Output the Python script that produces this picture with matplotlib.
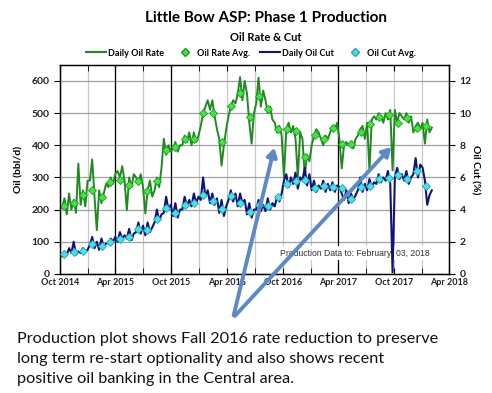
import numpy as np
import pandas as pd
import matplotlib
matplotlib.use("Agg")
import matplotlib.pyplot as plt
import matplotlib.dates as mdates
from matplotlib.patches import FancyArrowPatch
from matplotlib.lines import Line2D

plt.rcParams["font.family"] = ["Lato", "DejaVu Sans"]

# daily oil rate (bbl/d), ~weekly readings Oct 2014 - Feb 3 2018
oil_rate = [
    205, 235, 185, 250, 200, 230, 190, 343, 215, 260, 210, 290,
    290, 356, 240, 136, 260, 220, 250, 280, 270, 300, 280, 310,
    320, 300, 335, 290, 198, 300, 270, 310, 300, 280, 310, 270,
    188, 260, 290, 240, 260, 300, 270, 330, 420, 370, 400, 380,
    390, 410, 380, 400, 400, 430, 410, 440, 400, 440, 410, 430,
    460, 500, 520, 540, 510, 540, 490, 450, 420, 337, 400, 450,
    490, 520, 540, 530, 560, 612, 540, 600, 560, 470, 405, 500,
    530, 610, 520, 570, 540, 500, 520, 480, 470, 440, 460, 430,
    300, 450, 470, 440, 460, 420, 300, 440, 420, 306, 370, 350,
    400, 430, 450, 440, 420, 400, 430, 420, 440, 460, 450, 470,
    420, 328, 400, 410, 400, 410, 390, 420, 430, 450, 460, 420,
    470, 322, 480, 490, 480, 500, 490, 470, 500, 480, 510, 322,
    510, 470, 500, 490, 480, 500, 470, 490, 440, 460, 470, 450,
    470, 405, 480, 440, 455,
]

# daily oil cut (%)
oil_cut = [
    1.1, 1.4, 1.2, 1.6, 1.3, 2.0, 1.2, 1.4, 1.3, 1.6, 1.4, 1.5,
    1.8, 2.3, 1.6, 2.0, 1.5, 2.2, 1.7, 1.9, 1.9, 2.2, 2.0, 2.3,
    2.0, 2.6, 2.2, 2.4, 2.2, 2.8, 2.1, 2.5, 2.6, 3.2, 2.5, 3.0,
    2.4, 3.2, 2.6, 2.9, 3.2, 4.0, 3.3, 3.7, 3.8, 4.8, 4.0, 4.3,
    3.6, 4.4, 3.5, 4.0, 4.0, 4.8, 4.2, 4.6, 4.2, 5.0, 4.4, 4.8,
    4.6, 6.0, 4.8, 5.2, 4.4, 5.0, 4.3, 4.7, 3.8, 4.6, 3.6, 4.2,
    4.6, 5.2, 4.5, 5.0, 4.2, 5.0, 4.4, 4.6, 3.7, 4.4, 3.5, 4.0,
    4.0, 4.6, 3.9, 4.3, 3.9, 4.7, 4.0, 4.4, 4.2, 4.8, 4.5, 5.0,
    5.8, 6.2, 5.4, 6.0, 5.6, 6.3, 5.3, 6.0, 5.8, 6.6, 5.5, 6.2,
    5.2, 5.8, 5.1, 5.5, 5.3, 5.8, 5.1, 5.6, 5.2, 5.7, 5.1, 5.5,
    5.4, 5.0, 4.6, 5.2, 4.4, 5.0, 4.6, 4.9, 5.2, 6.0, 5.1, 5.6,
    5.2, 5.9, 5.4, 5.7, 5.6, 6.2, 5.7, 6.0, 5.8, 6.4, 5.6, 0.1,
    6.0, 6.6, 5.9, 6.2, 5.8, 6.4, 5.6, 6.0, 6.2, 7.2, 6.0, 6.8,
    6.6, 5.8, 4.3, 4.9, 5.2,
]

# monthly averages, Oct 2014 - Jan 2018
rate_avg = [
    210, 220, 245, 260, 240, 285, 292, 277, 290, 258, 290, 385,
    395, 418, 421, 501, 501, 411, 523, 563, 489, 553, 514, 451,
    451, 443, 362, 433, 421, 455, 405, 405, 442, 467, 489, 495,
    470, 486, 455, 461,
]
cut_avg = [
    1.22, 1.36, 1.44, 1.84, 1.74, 1.98, 2.16, 2.28, 2.78, 2.72, 3.44, 4.08,
    3.78, 4.26, 4.40, 4.88, 4.56, 4.04, 4.82, 4.40, 3.82, 4.26, 4.20, 4.76,
    5.62, 5.76, 5.82, 5.32, 5.44, 5.38, 5.32, 4.64, 5.38, 5.44, 5.88, 5.94,
    6.12, 5.88, 6.38, 5.44,
]

daily_dates = pd.date_range("2014-10-08", "2018-02-03", periods=len(oil_rate))
avg_dates = pd.date_range("2014-10-01", periods=len(rate_avg), freq="MS") + pd.Timedelta(days=14)

fig = plt.figure(figsize=(4.92, 3.93), dpi=100)
ax = fig.add_axes([0.122, 0.303, 0.791, 0.532])
ax2 = ax.twinx()

ax.set_xlim(pd.Timestamp("2014-10-01"), pd.Timestamp("2018-04-01"))
ax.set_ylim(0, 650)
ax2.set_ylim(0, 13)

ax.plot(daily_dates, oil_rate, color="#1f8a1f", lw=1.4, zorder=3)
ax.plot(avg_dates, rate_avg, ls="none", marker="D", ms=4.5, mfc="#3ee83e",
        mec="#1f9a1f", mew=0.6, zorder=4)
ax2.plot(daily_dates, oil_cut, color="#12127e", lw=1.5, zorder=3)
ax2.plot(avg_dates, cut_avg, ls="none", marker="D", ms=4.5, mfc="#3fe6e6",
         mec="#2aa0b0", mew=0.6, zorder=4)

# grid
ax.set_yticks(range(0, 601, 100))
ax.yaxis.grid(True, color="#a0a0a0", lw=0.9)
ax.xaxis.set_major_locator(mdates.MonthLocator(bymonth=[4, 10]))
ax.xaxis.set_minor_locator(mdates.MonthLocator(bymonth=[1, 7]))
ax.xaxis.set_major_formatter(mdates.DateFormatter("%b %Y"))
ax.xaxis.grid(True, which="both", color="#c8c8c8", lw=0.9)
ax.set_axisbelow(True)
for d in ["2015-04-01", "2015-10-01", "2017-04-01"]:
    ax.axvline(pd.Timestamp(d), color="black", lw=0.9, zorder=1)

ax2.set_yticks(range(0, 13, 2))
for a in (ax, ax2):
    for s in a.spines.values():
        s.set_color("black")
        s.set_linewidth(0.9)
ax.tick_params(axis="x", which="both", direction="in", top=True, length=4,
               labelsize=6.5, pad=3)
ax.tick_params(axis="y", direction="out", length=4, labelsize=7.5)
ax2.tick_params(axis="y", direction="out", length=4, labelsize=7.5)
for lbl in ax.get_xticklabels() + ax.get_yticklabels() + ax2.get_yticklabels():
    lbl.set_fontweight("bold")
    lbl.set_color("#202020")

ax.set_ylabel("Oil (bbl/d)", fontsize=7.5, fontweight="bold", labelpad=6)
ax2.set_ylabel("Oil Cut (%)", fontsize=7.5, fontweight="bold", rotation=270,
               labelpad=6)

ax.text(0.758, 0.10, "Production Data to: February  03, 2018", transform=ax.transAxes,
        ha="center", va="center", fontsize=6.2, family="Liberation Sans",
        color="#303030", bbox=dict(facecolor="white", edgecolor="none", pad=1.5),
        zorder=6)

fig.text(0.54, 0.955, "Little Bow ASP: Phase 1 Production", ha="center", va="center",
         fontsize=11, fontweight="bold")
fig.text(0.54, 0.905, "Oil Rate & Cut", ha="center", va="center",
         fontsize=8, fontweight="bold")

handles = [
    Line2D([], [], color="#1f8a1f", lw=1.5),
    Line2D([], [], ls="none", marker="D", ms=4, mfc="#3ee83e", mec="#1f9a1f"),
    Line2D([], [], color="#12127e", lw=1.5),
    Line2D([], [], ls="none", marker="D", ms=4, mfc="#3fe6e6", mec="#2aa0b0"),
]
labels = ["Daily Oil Rate", "Oil Rate Avg.", "Daily Oil Cut", "Oil Cut Avg."]
leg = fig.legend(handles, labels, loc="center", bbox_to_anchor=(0.51, 0.865), ncol=4,
                 frameon=False, handlelength=2.2, handletextpad=0.2,
                 columnspacing=1.2, prop=dict(weight="bold", size=6.5))

# arrows
for tip in [(275, 145), (393, 145)]:
    arr = FancyArrowPatch((233 / 492, 1 - 318 / 393), (tip[0] / 492, 1 - tip[1] / 393),
                          transform=fig.transFigure, arrowstyle="-|>,head_length=5,head_width=3",
                          color="#5b8ac6", lw=2.8, zorder=10)
    fig.add_artist(arr)

fig.text(0.035, 1 - 332 / 393, "Production plot shows Fall 2016 rate reduction to preserve\n"
         "long term re-start optionality and also shows recent\n"
         "positive oil banking in the Central area.", ha="left", va="top",
         fontsize=11.7, linespacing=1.55, color="#111111")

fig.savefig("out.png", dpi=100)
